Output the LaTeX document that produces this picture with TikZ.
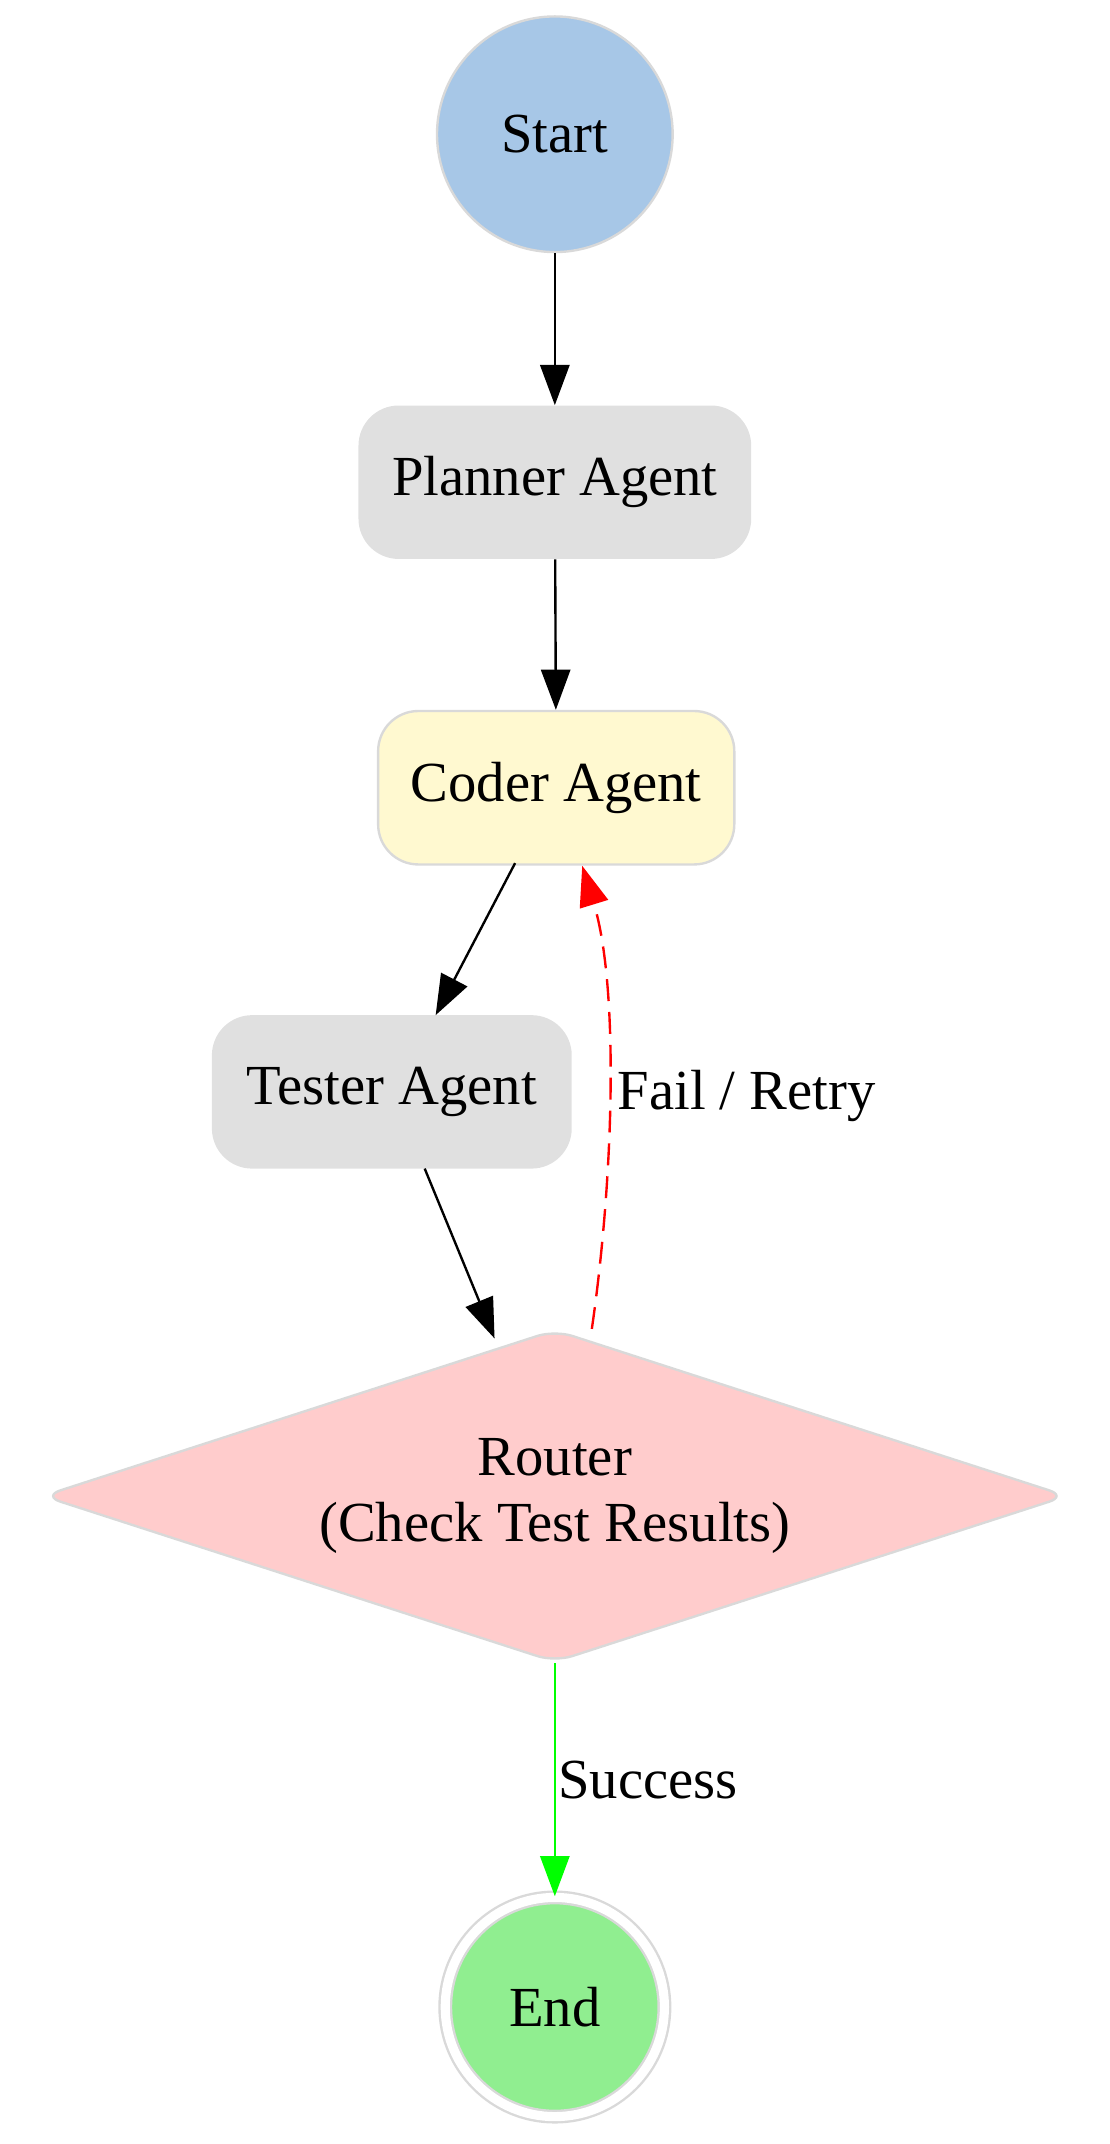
\documentclass[tikz,border=0pt]{standalone}
\usepackage{fontspec}
\setmainfont{Liberation Serif}
\usetikzlibrary{shapes.geometric,arrows.meta,positioning}
\definecolor{startblue}{HTML}{A7C7E7}
\definecolor{agentgray}{HTML}{E0E0E0}
\definecolor{coderyellow}{HTML}{FFF9D0}
\definecolor{routerpink}{HTML}{FFCCCC}
\definecolor{endgreen}{HTML}{90EE90}
\definecolor{edgegray}{HTML}{D9D9D9}
\tikzset{
  label font/.style={font=\fontsize{31}{36}\selectfont},
  agent/.style={rounded corners=22pt, minimum width=215pt, minimum height=84pt, fill=agentgray, label font},
  flow/.style={line width=1.3pt, -{Triangle[length=22pt,width=16pt]}},
}
\begin{document}
\begin{tikzpicture}[x=0.75pt,y=-0.75pt]
\useasboundingbox (0,0) rectangle (810,1565);

\node[circle, minimum size=129pt, fill=startblue, draw=edgegray, line width=1.3pt, label font] (start) at (405,98) {Start};
\node[agent] (planner) at (405,352) {Planner Agent};
\node[agent, minimum width=195pt, fill=coderyellow, draw=edgegray, line width=1.3pt] (coder) at (406,575) {Coder Agent};
\node[agent, minimum width=197pt] (tester) at (286,797) {Tester Agent};
\node[diamond, shape aspect=3.08, minimum width=561pt, minimum height=182pt, inner sep=0pt, fill=routerpink, draw=edgegray, line width=1.3pt, rounded corners=10pt, align=center, label font] (router) at (405,1092) {Router\\(Check Test Results)};
\node[circle, minimum size=120pt, fill=endgreen, draw=edgegray, line width=1.3pt, double=white, double distance=5pt, label font] (end) at (405,1465) {End};

% connector end points
\coordinate (coderout) at (376,630);
\coordinate (testerin) at (318,741);
\coordinate (testerout) at (310,853);
\coordinate (routerin) at (361,977);
\coordinate (routerback) at (432,970);
\coordinate (coderin) at (425,632);

\draw[flow] (start) -- (planner);
\draw[flow] (planner) -- (coder);
\draw[flow] (coderout) -- (testerin);
\draw[flow] (testerout) -- (routerin);
\draw[flow, red, dash pattern=on 12pt off 6pt] (routerback) .. controls (448,860) and (452,720) .. (coderin);
\node[label font] (faillabel) at (545,800) {Fail / Retry};
\draw[flow, green] (router) -- (end) node[midway, right=-2pt, black, label font] {Success};
\end{tikzpicture}
\end{document}
